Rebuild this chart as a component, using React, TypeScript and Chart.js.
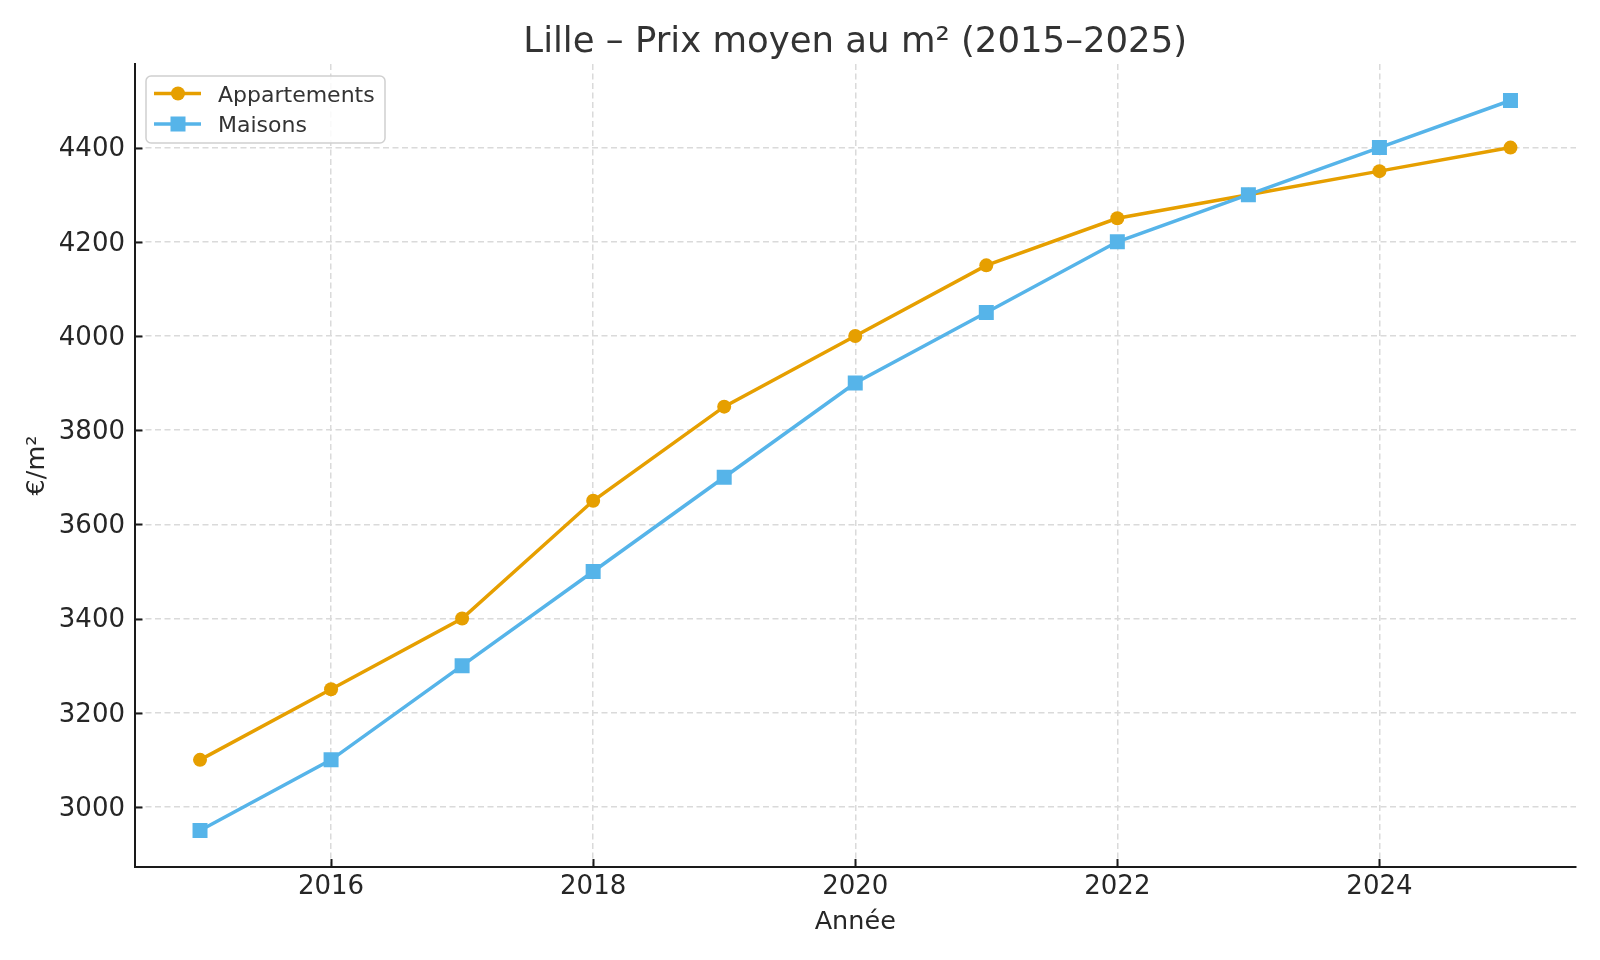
import React, { useEffect, useRef } from "react";
import { Chart, registerables } from "chart.js";

Chart.register(...registerables);

const years = [2015, 2016, 2017, 2018, 2019, 2020, 2021, 2022, 2023, 2024, 2025];
const appartements = [3100, 3250, 3400, 3650, 3850, 4000, 4150, 4250, 4300, 4350, 4400];
const maisons = [2950, 3100, 3300, 3500, 3700, 3900, 4050, 4200, 4300, 4400, 4500];
const xTicks = [2016, 2018, 2020, 2022, 2024];
const yTicks = [3000, 3200, 3400, 3600, 3800, 4000, 4200, 4400];

const TITLE = "Lille – Prix moyen au m² (2015–2025)";
const X_LABEL = "Année";
const Y_LABEL = "€/m²";
const SERIES_NAMES = ["Appartements", "Maisons"];
const COLORS = ["#E69F00", "#56B4E9"];
const FONT = "'DejaVu Sans', sans-serif";

const decorPlugin = {
  id: "decor",
  afterDraw(chart: any) {
    const ctx = chart.ctx;
    const area = chart.chartArea;
    const xs = chart.scales.x;
    const ys = chart.scales.y;
    ctx.save();
    // inward tick marks
    ctx.strokeStyle = "#1a1a1a";
    ctx.lineWidth = 2;
    ctx.setLineDash([]);
    for (const v of yTicks) {
      const y = Math.round(ys.getPixelForValue(v)) + 0.5;
      ctx.beginPath();
      ctx.moveTo(area.left, y);
      ctx.lineTo(area.left + 8, y);
      ctx.stroke();
    }
    for (const v of xTicks) {
      const x = Math.round(xs.getPixelForValue(v)) + 0.5;
      ctx.beginPath();
      ctx.moveTo(x, area.bottom);
      ctx.lineTo(x, area.bottom - 8);
      ctx.stroke();
    }
    // title
    ctx.fillStyle = "#333333";
    ctx.font = `35.5px ${FONT}`;
    ctx.textAlign = "center";
    ctx.textBaseline = "alphabetic";
    ctx.fillText(TITLE, (area.left + area.right) / 2, 52);
    // x label
    ctx.font = `25.5px ${FONT}`;
    ctx.fillStyle = "#262626";
    ctx.fillText(X_LABEL, (area.left + area.right) / 2, 929);
    // y label
    ctx.save();
    ctx.translate(44, (area.top + area.bottom) / 2);
    ctx.rotate(-Math.PI / 2);
    ctx.textBaseline = "alphabetic";
    ctx.fillText(Y_LABEL, 0, 0);
    ctx.restore();
    // legend
    const bx = 146, by = 76, bw = 239, bh = 67, r = 5;
    ctx.beginPath();
    ctx.moveTo(bx + r, by);
    ctx.arcTo(bx + bw, by, bx + bw, by + bh, r);
    ctx.arcTo(bx + bw, by + bh, bx, by + bh, r);
    ctx.arcTo(bx, by + bh, bx, by, r);
    ctx.arcTo(bx, by, bx + bw, by, r);
    ctx.closePath();
    ctx.fillStyle = "rgba(255,255,255,0.85)";
    ctx.fill();
    ctx.strokeStyle = "#d0d0d0";
    ctx.lineWidth = 1.5;
    ctx.stroke();
    const rows = [93.5, 124];
    const baselines = [101.5, 132];
    SERIES_NAMES.forEach((name, i) => {
      const cy = rows[i];
      ctx.strokeStyle = COLORS[i];
      ctx.lineWidth = 3.5;
      ctx.beginPath();
      ctx.moveTo(154, cy);
      ctx.lineTo(201, cy);
      ctx.stroke();
      ctx.fillStyle = COLORS[i];
      if (i === 0) {
        ctx.beginPath();
        ctx.arc(178, cy, 7, 0, Math.PI * 2);
        ctx.fill();
      } else {
        ctx.fillRect(178 - 7.5, cy - 7.5, 15, 15);
      }
      ctx.fillStyle = "#333333";
      ctx.font = `22px ${FONT}`;
      ctx.textAlign = "left";
      ctx.textBaseline = "alphabetic";
      ctx.fillText(name, 218, baselines[i]);
    });
    ctx.restore();
  },
};

export default function App() {
  const ref = useRef<HTMLCanvasElement>(null);
  useEffect(() => {
    if (!ref.current) return;
    const chart = new Chart(ref.current, {
      type: "line",
      data: {
        datasets: [
          {
            label: SERIES_NAMES[0],
            data: years.map((y, i) => ({ x: y, y: appartements[i] })),
            borderColor: COLORS[0],
            backgroundColor: COLORS[0],
            borderWidth: 3.5,
            pointStyle: "circle",
            pointRadius: 7,
            pointBorderWidth: 0,
            pointBackgroundColor: COLORS[0],
            tension: 0,
            order: 2,
          },
          {
            label: SERIES_NAMES[1],
            data: years.map((y, i) => ({ x: y, y: maisons[i] })),
            borderColor: COLORS[1],
            backgroundColor: COLORS[1],
            borderWidth: 3.5,
            pointStyle: "rect",
            pointRadius: 10.6,
            pointBorderWidth: 0,
            pointBackgroundColor: COLORS[1],
            tension: 0,
            order: 1,
          },
        ],
      },
      options: {
        animation: false,
        responsive: true,
        maintainAspectRatio: false,
        devicePixelRatio: 1,
        layout: { padding: { top: 64, right: 24, left: 0, bottom: 0 } },
        plugins: {
          legend: { display: false },
          title: { display: false },
          tooltip: { enabled: false },
        },
        scales: {
          x: {
            type: "linear",
            min: 2014.5,
            max: 2025.5,
            afterBuildTicks: (s: any) => {
              s.ticks = xTicks.map((v) => ({ value: v }));
            },
            afterFit: (s: any) => {
              s.height = 93;
            },
            ticks: {
              color: "#262626",
              font: { family: FONT, size: 26 },
              padding: 5,
              maxRotation: 0,
              callback: (v: any) => String(v),
            },
            grid: {
              color: "#dadada",
              lineWidth: 1.5,
              drawTicks: false,
            },
            border: { display: true, color: "#1a1a1a", width: 2, dash: [6, 3.5] },
          },
          y: {
            type: "linear",
            min: 2872.5,
            max: 4577.5,
            afterBuildTicks: (s: any) => {
              s.ticks = yTicks.map((v) => ({ value: v }));
            },
            afterFit: (s: any) => {
              s.width = 134.5;
            },
            ticks: {
              color: "#262626",
              font: { family: FONT, size: 26 },
              padding: 9.5,
              labelOffset: 2,
              callback: (v: any) => String(v),
            },
            grid: {
              color: "#dadada",
              lineWidth: 1.5,
              drawTicks: false,
            },
            border: { display: true, color: "#1a1a1a", width: 2, dash: [6, 3.5] },
          },
        },
      },
      plugins: [decorPlugin],
    });
    return () => chart.destroy();
  }, []);
  return (
    <div style={{ position: "absolute", left: 0, top: 0, width: 1600, height: 960, background: "#fff" }}>
      <canvas ref={ref} />
    </div>
  );
}
